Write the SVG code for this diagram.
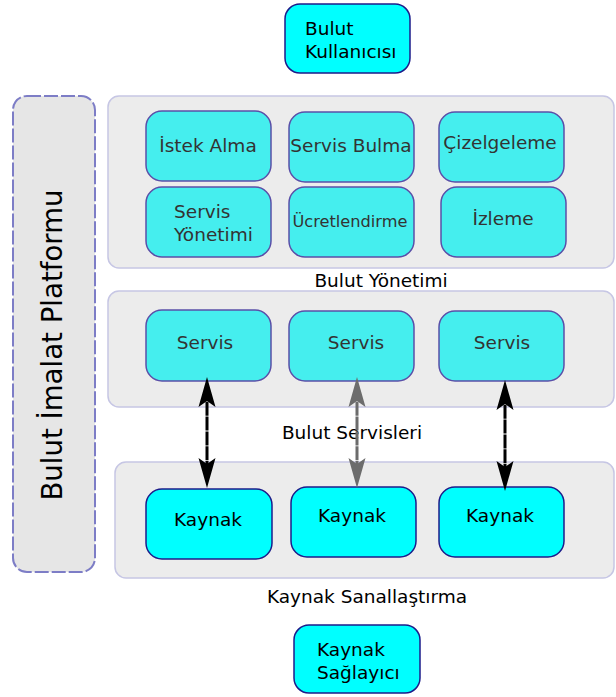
<svg xmlns="http://www.w3.org/2000/svg" width="616" height="697" viewBox="0 0 616 697">
  <style>
    text { font-family: "DejaVu Sans", Verdana, sans-serif; font-size: 18.5px; }
    .actor { fill: #00ffff; stroke: #1c1c8a; stroke-width: 1.5; }
    .res { fill: #00ffff; stroke: #1c1c8a; stroke-width: 1.5; }
    .mod { fill: #45eeee; stroke: #5a4fa8; stroke-width: 1.5; }
    .panel { fill: #ececec; stroke: #c6c6e4; stroke-width: 1.5; }
    .platform { fill: #e6e6e6; stroke: #7d7dc6; stroke-width: 2; stroke-dasharray: 14 3; }
    .dark { fill: #000; }
    .soft { fill: #333; }
    .link { fill: none; stroke: #000; stroke-width: 3; stroke-dasharray: 14 0.8; }
    .link-grey { fill: none; stroke: #6c6c6c; stroke-width: 3; stroke-dasharray: 14 0.8; }
  </style>
  <defs>
    <marker id="head" markerUnits="userSpaceOnUse" markerWidth="34" markerHeight="20" refX="22" refY="10" orient="auto-start-reverse">
      <path d="M32,10 L2,1.5 L8,10 L2,18.5 Z" fill="#000"/>
    </marker>
    <marker id="head-grey" markerUnits="userSpaceOnUse" markerWidth="34" markerHeight="20" refX="22" refY="10" orient="auto-start-reverse">
      <path d="M32,10 L2,1.5 L8,10 L2,18.5 Z" fill="#6c6c6c"/>
    </marker>
  </defs>

  <!-- Cloud user -->
  <g id="bulut-kullanicisi">
    <rect class="actor" x="285" y="4" width="125" height="69" rx="15"/>
    <text class="dark" x="305" y="35">Bulut</text>
    <text class="dark" x="305" y="58">Kullanıcısı</text>
  </g>

  <!-- Platform band on the left -->
  <g id="platform">
    <rect class="platform" x="13" y="96" width="82" height="476" rx="14"/>
    <text class="dark" transform="translate(62,345) rotate(-90)" text-anchor="middle" style="font-size:27.6px">Bulut İmalat Platformu</text>
  </g>

  <!-- Management layer -->
  <g id="bulut-yonetimi">
    <rect class="panel" x="108" y="96" width="506" height="172" rx="11"/>
    <text class="dark" x="381" y="287" text-anchor="middle">Bulut Yönetimi</text>
  </g>
  <g id="istek-alma">
    <rect class="mod" x="146" y="111" width="125" height="70" rx="16"/>
    <text class="soft" x="208" y="152" text-anchor="middle">İstek Alma</text>
  </g>
  <g id="servis-bulma">
    <rect class="mod" x="289" y="112" width="125" height="70" rx="16"/>
    <text class="soft" x="351" y="152" text-anchor="middle">Servis Bulma</text>
  </g>
  <g id="cizelgeleme">
    <rect class="mod" x="439" y="112" width="125" height="70" rx="16"/>
    <text class="soft" x="500" y="149" text-anchor="middle">Çizelgeleme</text>
  </g>
  <g id="servis-yonetimi">
    <rect class="mod" x="146" y="187" width="125" height="70" rx="16"/>
    <text class="soft" x="174" y="218">Servis</text>
    <text class="soft" x="174" y="241">Yönetimi</text>
  </g>
  <g id="ucretlendirme">
    <rect class="mod" x="289" y="187" width="125" height="70" rx="16"/>
    <text class="soft" x="350" y="227" text-anchor="middle" style="font-size:16.2px">Ücretlendirme</text>
  </g>
  <g id="izleme">
    <rect class="mod" x="441" y="187" width="125" height="70" rx="16"/>
    <text class="soft" x="503" y="225" text-anchor="middle">İzleme</text>
  </g>

  <!-- Services layer -->
  <g id="bulut-servisleri">
    <rect class="panel" x="108" y="291" width="506" height="116" rx="11"/>
    <text class="dark" x="352" y="439" text-anchor="middle">Bulut Servisleri</text>
  </g>
  <g id="servis-1">
    <rect class="mod" x="146" y="310" width="125" height="71" rx="16"/>
    <text class="soft" x="205" y="349" text-anchor="middle">Servis</text>
  </g>
  <g id="servis-2">
    <rect class="mod" x="289" y="311" width="125" height="70" rx="16"/>
    <text class="soft" x="356" y="349" text-anchor="middle">Servis</text>
  </g>
  <g id="servis-3">
    <rect class="mod" x="439" y="311" width="125" height="70" rx="16"/>
    <text class="soft" x="502" y="349" text-anchor="middle">Servis</text>
  </g>

  <!-- Virtualisation layer -->
  <g id="kaynak-sanallastirma">
    <rect class="panel" x="115" y="462" width="499" height="116" rx="11"/>
    <text class="dark" x="367" y="603" text-anchor="middle">Kaynak Sanallaştırma</text>
  </g>
  <g id="kaynak-1">
    <rect class="res" x="146" y="489" width="126" height="70" rx="16"/>
    <text class="dark" x="208" y="526" text-anchor="middle">Kaynak</text>
  </g>
  <g id="kaynak-2">
    <rect class="res" x="291" y="487" width="125" height="70" rx="16"/>
    <text class="dark" x="352" y="522" text-anchor="middle">Kaynak</text>
  </g>
  <g id="kaynak-3">
    <rect class="res" x="439" y="487" width="125" height="70" rx="16"/>
    <text class="dark" x="500" y="522" text-anchor="middle">Kaynak</text>
  </g>

  <!-- Resource provider -->
  <g id="kaynak-saglayici">
    <rect class="actor" x="294" y="625" width="126" height="68" rx="15"/>
    <text class="dark" x="317" y="656">Kaynak</text>
    <text class="dark" x="317" y="679">Sağlayıcı</text>
  </g>

  <!-- Service / resource links -->
  <g id="connectors">
    <path class="link" d="M207,387 L207,478" marker-start="url(#head)" marker-end="url(#head)"/>
    <path class="link-grey" d="M357,387 L357,478" marker-start="url(#head-grey)" marker-end="url(#head-grey)"/>
    <path class="link" d="M505,390 L505,481" marker-start="url(#head)" marker-end="url(#head)"/>
  </g>
</svg>
